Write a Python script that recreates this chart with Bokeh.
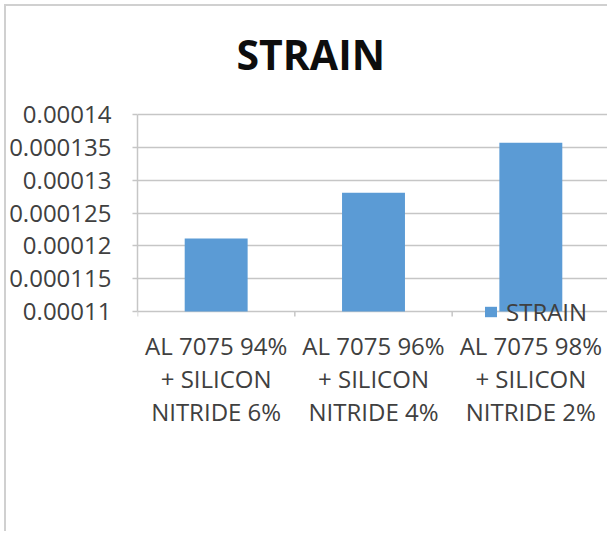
from bokeh.plotting import figure
from bokeh.models import Range1d, FixedTicker, Legend, LegendItem, ColumnDataSource, Label
from bokeh.embed import file_html
from bokeh.resources import INLINE
import numpy as np

# ---- data ----
title_text = "STRAIN"
categories = ["AL 7075 94%\n+ SILICON\nNITRIDE 6%",
              "AL 7075 96%\n+ SILICON\nNITRIDE 4%",
              "AL 7075 98%\n+ SILICON\nNITRIDE 2%"]
strain = [0.0001211, 0.0001281, 0.0001357]
series_name = "STRAIN"
y_ticks = [0.00011, 0.000115, 0.00012, 0.000125, 0.00013, 0.000135, 0.00014]
y_tick_labels = ["0.00011", "0.000115", "0.00012", "0.000125", "0.00013", "0.000135", "0.00014"]
y_min, y_max = 0.00011, 0.00014

FONT = "Open Sans"
TXT = "#404040"
GRID = "#c6c6c6"

# layout (pixels)
PLOT_H_PX = 197      # height of value area y_min..y_max
TOP_PX = 108         # space above value area (title lives there, inside the frame)
PAD_PX = 26          # room below the baseline so the legend isn't clipped
CAT_W_PX = 158       # width of one category slot
TITLE_CX_PX = 174    # title centre, px from the frame's left edge
TITLE_CY_PX = 61     # title centre, px above the top gridline

unit = (y_max - y_min) / PLOT_H_PX
pad = unit * PAD_PX
top_pad = unit * TOP_PX

x_pos = list(np.arange(len(categories)) + 0.5)
bounds = list(range(len(categories) + 1))
src = ColumnDataSource(dict(x=x_pos, top=strain))
tick_src = ColumnDataSource(dict(x=bounds, y0=[y_min] * len(bounds)))

p = figure(width=603, height=527, output_backend="svg", toolbar_location=None,
           x_range=Range1d(0, len(categories)), y_range=Range1d(y_min - pad, y_max + top_pad),
           min_border_left=129, min_border_right=0, min_border_top=0,
           min_border_bottom=222 - PAD_PX)
p.title = None

p.outline_line_color = None
p.background_fill_color = "white"
p.border_fill_color = "white"
p.styles = {"margin-left": "4px", "margin-top": "4px",
            "border-left": "2px solid #d0d0d0", "border-top": "2px solid #d0d0d0"}

r = p.vbar(x="x", top="top", bottom=y_min, width=0.4, source=src,
           fill_color="#5b9bd5", line_color=None)

# category boundary tick marks hanging below the value baseline
p.segment(x0="x", x1="x", y0="y0", y1=y_min - unit * 5, source=tick_src,
          line_color=GRID, line_width=1.5)

# chart title
p.add_layout(Label(x=TITLE_CX_PX / CAT_W_PX, y=y_max + unit * TITLE_CY_PX,
                   text=title_text, text_align="center", text_baseline="middle",
                   text_font=FONT, text_font_size="41px", text_font_style="bold",
                   text_color="#0d0d0d"))

# y axis
ya = p.yaxis[0]
ya.ticker = FixedTicker(ticks=y_ticks)
ya.bounds = (y_min, y_max)
ya.major_label_overrides = {t: l for t, l in zip(y_ticks, y_tick_labels)}
ya.axis_line_color = GRID
ya.axis_line_width = 1.5
ya.major_tick_line_color = GRID
ya.major_tick_line_width = 1.5
ya.major_tick_out = 5
ya.major_tick_in = 0
ya.minor_tick_line_color = None
ya.major_label_standoff = 21
ya.major_label_text_font = FONT
ya.major_label_text_font_size = "24px"
ya.major_label_text_color = TXT

# x axis (labels only; baseline drawn by the grid line at y_min)
xa = p.xaxis[0]
xa.ticker = FixedTicker(ticks=x_pos)
xa.major_label_overrides = {t: c for t, c in zip(x_pos, categories)}
xa.axis_line_color = None
xa.major_tick_line_color = None
xa.major_tick_out = 0
xa.major_tick_in = 0
xa.minor_tick_line_color = None
xa.major_label_standoff = 2 - (PAD_PX - 15)
xa.major_label_text_font = FONT
xa.major_label_text_font_size = "24px"
xa.major_label_text_color = TXT
xa.major_label_text_line_height = 1.0

p.xgrid.grid_line_color = None
p.ygrid.ticker = FixedTicker(ticks=y_ticks)
p.ygrid.grid_line_color = GRID
p.ygrid.grid_line_width = 1.5

legend = Legend(items=[LegendItem(label=series_name, renderers=[r])],
                location=(346, PAD_PX - 15 - 2), padding=0, spacing=0, margin=0,
                glyph_width=15, glyph_height=13, label_standoff=8,
                border_line_alpha=0, background_fill_alpha=0,
                label_text_font=FONT, label_text_font_size="24px",
                label_text_color=TXT)
p.add_layout(legend, "center")

open("out.html", "w").write(file_html(p, INLINE))
